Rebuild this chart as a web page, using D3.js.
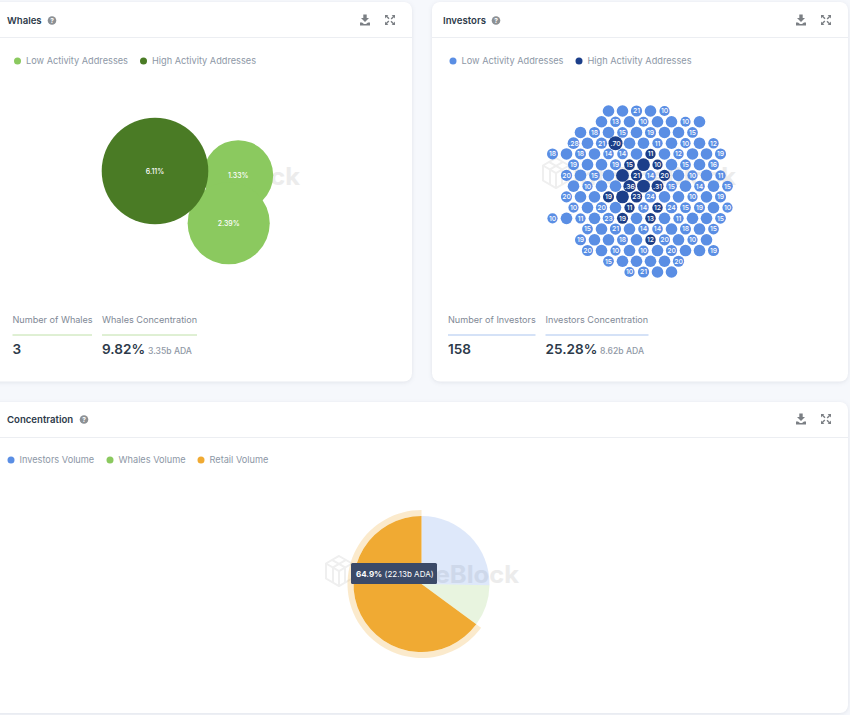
<!DOCTYPE html>
<html>
<head>
<meta charset="utf-8">
<script src="https://cdn.jsdelivr.net/npm/d3@7"></script>
<style>
  body { margin: 0; background: #f6f8fc; font-family: Inter, sans-serif; }
  svg { display: block; }
  .card { fill: #fff; filter: drop-shadow(0 1px 2px rgba(40, 50, 80, 0.10)); }
</style>
</head>
<body>
<svg id="chart" width="850" height="715"></svg>
<script>
const whaleValues = [1.33, 2.39, 6.11]
const whaleLabels = ['1.33%', '2.39%', '6.11%']
const whaleHigh = [false, false, true]

// investor bubbles read row by row, numbers are the hundredths shown in the label
// 0 = bubble with no readable label
const investorRows = [
  [0, 0, 21, 0, 10],
  [0, 13, 0, 10, 0, 0, 10, 0],
  [0, 18, 0, 15, 0, 19, 0, 0, 15],
  [28, 0, 21, 70, 0, 0, 11, 0, 10, 0, 12],
  [18, 0, 18, 0, 14, 14, 0, 11, 0, 12, 0, 0, 19],
  [19, 0, 0, 19, 15, 0, 10, 0, 15, 0, 16],
  [20, 0, 15, 0, 0, 21, 14, 20, 0, 10, 0, 11],
  [0, 10, 0, 0, 36, 0, 31, 15, 0, 14, 0, 15],
  [20, 0, 0, 19, 0, 23, 24, 0, 0, 10, 0, 19],
  [10, 0, 20, 0, 11, 14, 12, 24, 15, 19, 0, 10],
  [10, 0, 11, 0, 23, 19, 0, 13, 0, 11, 0, 0, 15],
  [15, 0, 21, 0, 14, 14, 0, 18, 0, 15],
  [19, 0, 0, 18, 0, 12, 20, 0, 10, 0],
  [20, 0, 10, 0, 10, 0, 20, 0, 0, 19],
  [15, 0, 0, 0, 0, 20],
  [10, 21, 0, 0],
]
// high activity bubbles, as row -> columns
const investorHigh = {
  3: [3],
  4: [7],
  5: [4, 5, 6],
  6: [4, 5, 7],
  7: [4, 5, 6],
  8: [3, 4, 5],
  9: [4, 6],
  10: [5, 7],
  12: [5],
}
const unlabelledLow = 26
const unlabelledHigh = 45

const concentrationNames = ['Investors Volume', 'Whales Volume', 'Retail Volume']
const concentrationValues = [25.28, 9.82, 64.9]
const tooltipPct = '64.9%'
const tooltipAmount = ' (22.13b ADA)'

const GREEN = '#8bc95f'
const DARK_GREEN = '#4a7b25'
const BLUE = '#5a8ee4'
const DARK_BLUE = '#1c3f8a'
const ORANGE = '#f0aa33'
const INK = '#2d3a4a'
const MUTED = '#8d97a6'

const svg = d3.select('#chart')

function card(x, y, w, h) {
  svg.append('rect').attr('class', 'card')
    .attr('x', x).attr('y', y).attr('width', w).attr('height', h).attr('rx', 8)
  svg.append('line')
    .attr('x1', x).attr('x2', x + w).attr('y1', y + 35.5).attr('y2', y + 35.5)
    .attr('stroke', '#eceef2')
}

function header(title, x, y, helpX, downloadX) {
  svg.append('text').attr('x', x).attr('y', y + 3.5)
    .attr('font-size', 9.6).attr('font-weight', 600).attr('fill', INK).text(title)
  svg.append('circle').attr('cx', helpX).attr('cy', y + 0.5).attr('r', 4.3).attr('fill', '#8c9094')
  svg.append('text').attr('x', helpX).attr('y', y + 3).attr('text-anchor', 'middle')
    .attr('font-size', 6.5).attr('font-weight', 700).attr('fill', '#fff').text('?')

  // download
  svg.append('path')
    .attr('transform', `translate(${downloadX},${y})`)
    .attr('d', 'M-1.7,-5.5h3.4v3.5h2.3l-4,4l-4,-4h2.3z M-5,2.5h2l2,1.5h2l2,-1.5h2v3h-10z')
    .attr('fill', '#7b7f84')
  // expand
  svg.append('path')
    .attr('transform', `translate(${downloadX + 25},${y})`)
    .attr('d', 'M-5,-5h3.4l-1.1,1.1l2.2,2.2l-1,1l-2.2,-2.2l-1.3,1.3z M5,-5v3.4l-1.1,-1.1l-2.2,2.2l-1,-1l2.2,-2.2l-1.3,-1.3z M-5,5v-3.4l1.1,1.1l2.2,-2.2l1,1l-2.2,2.2l1.3,1.3z M5,5h-3.4l1.1,-1.1l-2.2,-2.2l1,-1l2.2,2.2l1.3,-1.3z')
    .attr('fill', '#7b7f84')
}

function legend(items) {
  items.forEach(d => {
    svg.append('circle').attr('cx', d.x).attr('cy', d.y).attr('r', 3.5).attr('fill', d.color)
    svg.append('text').attr('x', d.x + 8.5).attr('y', d.y + 3.2)
      .attr('font-size', 9.2).attr('fill', MUTED).text(d.name)
  })
}

function stat(x, w, y, label, value, color, extra, extraX) {
  svg.append('text').attr('x', x).attr('y', y)
    .attr('font-size', 9.1).attr('fill', '#7f8996').text(label)
  svg.append('line').attr('x1', x).attr('x2', x + w).attr('y1', y + 12).attr('y2', y + 12)
    .attr('stroke', color).attr('stroke-width', 1)
  svg.append('text').attr('x', x).attr('y', y + 31)
    .attr('font-size', 13.6).attr('font-weight', 600).attr('fill', INK).text(value)
  if (extra) {
    svg.append('text').attr('x', extraX).attr('y', y + 31)
      .attr('font-size', 8.6).attr('font-weight', 500).attr('fill', '#8f98a5').text(extra)
  }
}

// faint logo + name behind each chart
function watermark(x, baseline) {
  const g = svg.append('g').attr('transform', `translate(${x},${baseline})`)
  g.append('path')
    .attr('d', 'M14,-27L27,-19.5V-4.5L14,3L1,-4.5V-19.5Z M1,-19.5L14,-12L27,-19.5 M14,-12V3 M7,-23.2L20,-15.7V-0.7 M21,-23.2L8,-15.7V-0.7')
    .attr('fill', 'none').attr('stroke', '#efefef').attr('stroke-width', 2)
  g.append('text').attr('x', 31).attr('y', 0)
    .attr('font-size', 24).attr('font-weight', 700).attr('fill', '#ececec')
    .attr('textLength', 163).attr('lengthAdjust', 'spacingAndGlyphs')
    .text('IntoTheBlock')
}

card(-12, 2, 424, 379.5)
card(432, 2, 416, 379.5)
card(-12, 402, 860, 311)

header('Whales', 7, 20, 52, 365)
header('Investors', 443, 20, 496, 801)
header('Concentration', 7, 419, 84, 801)

legend([
  { x: 17.5, y: 61, color: GREEN, name: 'Low Activity Addresses' },
  { x: 143.5, y: 61, color: DARK_GREEN, name: 'High Activity Addresses' },
  { x: 453, y: 61, color: BLUE, name: 'Low Activity Addresses' },
  { x: 579, y: 61, color: DARK_BLUE, name: 'High Activity Addresses' },
])
legend(concentrationNames.map((name, i) => ({
  x: [11, 110, 201][i],
  y: 460,
  color: [BLUE, GREEN, ORANGE][i],
  name,
})))

stat(12.5, 79.5, 323, 'Number of Whales', '3', '#bfe0a8')
stat(102, 95, 323, 'Whales Concentration', '9.82%', '#bfe0a8', '3.35b ADA', 148)
stat(448, 87.5, 323, 'Number of Investors', '158', '#abc5ef')
stat(545.5, 103, 323, 'Investors Concentration', '25.28%', '#abc5ef', '8.62b ADA', 600)

// whales: three overlapping bubbles, laid out from how far each pair overlaps
watermark(106, 185)

const whaleR = d3.scalePow().exponent(0.3).domain([1.33, 6.11]).range([35, 53.3])

function whaleLayout() {
  const rs = whaleValues.map(whaleR)
  const big = { x: 155, y: 171 }
  const dAB = rs[2] + rs[0] - 5
  const dAC = rs[2] + rs[1] - 4
  const dBC = rs[0] + rs[1] - 27
  const first = 0.05
  const spread = Math.acos((dAB * dAB + dAC * dAC - dBC * dBC) / (2 * dAB * dAC))
  return [
    { x: big.x + dAB * Math.cos(first), y: big.y + dAB * Math.sin(first) },
    { x: big.x + dAC * Math.cos(first + spread), y: big.y + dAC * Math.sin(first + spread) },
    big,
  ]
}
const whalePos = whaleLayout()

const whaleG = svg.append('g').selectAll('g')
  .data(whaleValues)
  .join('g')
  .attr('transform', (d, i) => `translate(${whalePos[i].x},${whalePos[i].y})`)
whaleG.append('circle')
  .attr('r', d => whaleR(d))
  .attr('fill', (d, i) => whaleHigh[i] ? DARK_GREEN : GREEN)
whaleG.append('text')
  .attr('text-anchor', 'middle').attr('y', 2.5)
  .attr('font-size', 7).attr('font-weight', 500).attr('fill', '#fff')
  .text((d, i) => whaleLabels[i])

// investors: rows of bubbles on a staggered lattice
watermark(542, 185)

const rowY = d3.scaleLinear().domain([0, investorRows.length - 1]).range([111, 272])
const colX = d3.scaleLinear().domain([0, 1]).range([636.5, 650.5])
const investorR = d3.scaleSqrt().domain([10, 70]).range([5.1, 7])

const investorNodes = investorRows.flatMap((row, k) => {
  const mid = Math.floor((row.length - 1) / 2)
  return row.map((v, c) => {
    const high = (investorHigh[k] || []).includes(c)
    return {
      value: v || (high ? unlabelledHigh : unlabelledLow),
      label: v ? (v > 25 ? '.' + v : String(v)) : '',
      high,
      x: colX(c - mid + (k % 2 ? 0.5 : 0)),
      y: rowY(k),
    }
  })
})

const investorG = svg.append('g').selectAll('g')
  .data(investorNodes)
  .join('g')
  .attr('transform', d => `translate(${d.x},${d.y})`)
investorG.append('circle')
  .attr('r', d => investorR(d.value))
  .attr('fill', d => d.high ? DARK_BLUE : BLUE)
investorG.append('text')
  .attr('text-anchor', 'middle').attr('y', 2.4)
  .attr('font-size', 6.8).attr('font-weight', 500).attr('fill', '#fff')
  .text(d => d.label)

// concentration pie, retail slice hovered
watermark(325, 583)

const pieX = 421.5
const pieY = 584
const pieR = 68
const slices = d3.pie().sort(null)(concentrationValues)
const arc = d3.arc().innerRadius(0).outerRadius(pieR)
const halo = d3.arc().innerRadius(pieR).outerRadius(pieR + 6)

const pieG = svg.append('g').attr('transform', `translate(${pieX},${pieY})`)
pieG.selectAll('path.slice')
  .data(slices)
  .join('path')
  .attr('class', 'slice')
  .attr('d', arc)
  .attr('fill', (d, i) => [BLUE, GREEN, ORANGE][i])
  .attr('fill-opacity', (d, i) => i === 2 ? 1 : 0.2)
pieG.append('path')
  .attr('d', halo(slices[2]))
  .attr('fill', ORANGE).attr('fill-opacity', 0.25)

svg.append('rect')
  .attr('x', 351).attr('y', 563).attr('width', 86).attr('height', 21).attr('rx', 1.5)
  .attr('fill', '#3b4a68')
const tip = svg.append('text').attr('x', 356).attr('y', 576.5)
  .attr('font-size', 8).attr('fill', '#fff')
tip.append('tspan').attr('font-weight', 700).text(tooltipPct)
tip.append('tspan').text(tooltipAmount)
</script>
</body>
</html>
